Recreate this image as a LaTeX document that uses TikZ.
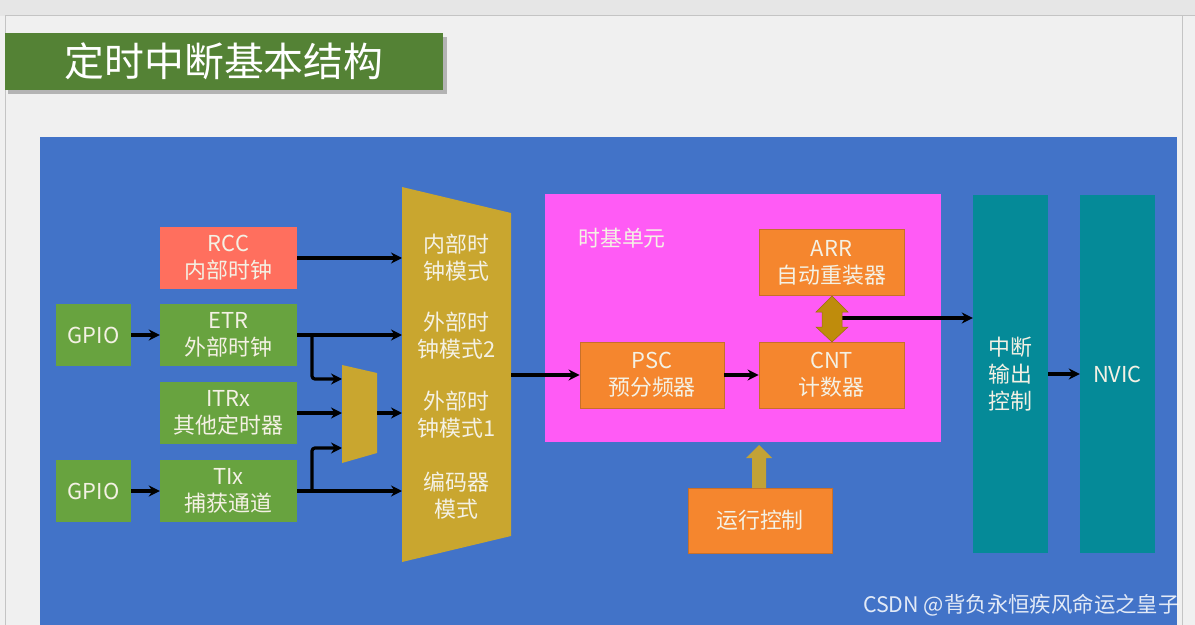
\documentclass[tikz,border=0pt]{standalone}
\usepackage{fontspec}
\newfontfamily\cjk{Noto Sans CJK SC}
\usetikzlibrary{arrows.meta}
\definecolor{pagebg}{HTML}{F0F0F0}
\definecolor{topband}{HTML}{E6E6E6}
\definecolor{edgeline}{HTML}{C4C4C4}
\definecolor{titlegreen}{HTML}{548235}
\definecolor{panelblue}{HTML}{4273C8}
\definecolor{boxgreen}{HTML}{68A33F}
\definecolor{rccred}{HTML}{FF6F5E}
\definecolor{muxgold}{HTML}{C9A62F}
\definecolor{tbpink}{HTML}{FF5BF5}
\definecolor{boxorange}{HTML}{F5862E}
\definecolor{orangeedge}{HTML}{C8702A}
\definecolor{teal}{HTML}{058A98}
\definecolor{dblgold}{HTML}{BF8C0C}
\definecolor{upgold}{HTML}{C2A236}
\definecolor{txt}{HTML}{F4F1E4}
\begin{document}
\begin{tikzpicture}[x=1bp,y=-1bp,
  lbl/.style={font=\cjk\fontsize{22}{27}\selectfont, text=txt, align=center, inner sep=0pt},
  box/.style={lbl, minimum width=137bp, minimum height=62bp},
  gbox/.style={box, fill=boxgreen},
  smallbox/.style={box, minimum width=75bp, fill=boxgreen},
  obox/.style={lbl, fill=boxorange, draw=orangeedge, line width=0.8bp, minimum width=145bp, minimum height=66bp},
  tbox/.style={lbl, fill=teal, minimum width=75bp, minimum height=358bp},
  ghost/.style={inner sep=0pt, outer sep=0pt},
  tip/.style={-{Stealth[length=11bp,width=11bp]}},
  arr/.style={line width=3.2bp, draw=black, tip},
  wire/.style={line width=3.2bp, draw=black, rounded corners=3bp, tip}
]
\useasboundingbox (0,0) rectangle (1195,625);
% page background
\fill[pagebg] (0,0) rectangle (1195,625);
\fill[topband] (0,0) rectangle (1195,16);
\draw[edgeline, line width=1bp] (5,625) -- (5,16) -- (1195,16);
\draw[edgeline, line width=1bp] (1182,16) -- (1182,625);
% title
\fill[black, opacity=0.25] (8,37) rectangle (447,94);
\node[ghost, fill=titlegreen, minimum width=438bp, minimum height=57bp, anchor=north west,
  font=\cjk\fontsize{40}{42}\selectfont, text=white] (title) at (5,33) {定时中断基本结构};
% blue panel
\node[ghost, fill=panelblue, minimum width=1137bp, minimum height=488bp, anchor=north west] (panel) at (40,137) {};

% left sources
\node[box, fill=rccred] (rcc) at (228.5,258) {RCC\\内部时钟};
\node[smallbox] (gpio1) at (93.5,335) {GPIO};
\node[gbox] (etr) at (228.5,335) {ETR\\外部时钟};
\node[gbox] (itr) at (228.5,413) {ITRx\\其他定时器};
\node[smallbox] (gpio2) at (93.5,491) {GPIO};
\node[gbox] (tix) at (228.5,491) {TIx\\捕获通道};

% small mux
\node[ghost, minimum width=35bp, minimum height=98bp] (smux) at (359.5,414) {};
\fill[muxgold] (342,365) -- (377,373) -- (377,453) -- (342,463) -- cycle;
% big mux
\node[ghost, minimum width=109bp, minimum height=375bp] (mux) at (456.5,374.5) {};
\fill[muxgold] (402,187) -- (511,213) -- (511,536) -- (402,562) -- cycle;
\node[lbl] (m1) at (456.5,258) {内部时\\钟模式};
\node[lbl] (m2) at (456.5,336) {外部时\\钟模式2};
\node[lbl] (m3) at (456.5,415) {外部时\\钟模式1};
\node[lbl] (m4) at (456.5,496) {编码器\\模式};

% time base unit
\node[ghost, fill=tbpink, minimum width=396bp, minimum height=248bp] (tb) at (743,318) {};
\node[lbl, anchor=west] (tbl) at (578,238) {时基单元};
\node[obox] (arr) at (831.5,262.5) {ARR\\自动重装器};
\node[obox, minimum width=144bp] (psc) at (652,375) {PSC\\预分频器};
\node[obox] (cnt) at (831.5,375) {CNT\\计数器};
\node[obox, minimum width=144bp, minimum height=65bp] (run) at (760,520.5) {运行控制};

% right column
\node[tbox] (int) at (1010.5,374) {中断\\输出\\控制};
\node[tbox] (nvic) at (1117.5,374) {NVIC};

% wires and arrows
\draw[arr] (gpio1.east) -- (etr.west);
\draw[arr] (gpio2.east) -- (tix.west);
\draw[arr] (rcc.east) -- (rcc.east -| mux.west);
\draw[arr] (etr.east) -- (etr.east -| mux.west);
\draw[arr] (tix.east) -- (tix.east -| mux.west);
\coordinate (b1) at (312,336);
\coordinate (s1) at (342,379);
\coordinate (b2) at (312,491);
\coordinate (s2) at (342,448);
\draw[wire] (b1) |- (s1);
\draw[wire] (b2) |- (s2);
\draw[arr] (itr.east) -- (itr.east -| smux.west);
\draw[arr] (smux.east |- itr.east) -- (itr.east -| mux.west);
\draw[arr] (mux.east |- psc.west) -- (psc.west);
\draw[arr] (psc.east) -- (cnt.west);
\coordinate (d) at (842,318);
\draw[arr] (d) -- (d -| int.west);
\draw[arr] (int.east |- nvic.center) -- (nvic.west);

% double arrow ARR <-> CNT
\fill[dblgold, draw=dblgold!80!black, line width=0.5bp]
  (832,296) -- (848,312) -- (842,312) -- (842,327) -- (848,327) -- (832,342)
  -- (816,327) -- (822,327) -- (822,312) -- (816,312) -- cycle;
% run control up arrow
\fill[upgold]
  (759,445) -- (772,458) -- (766,458) -- (766,488) -- (752,488) -- (752,458) -- (746,458) -- cycle;

% watermark
\node[font=\cjk\fontsize{21.5}{23}\selectfont, text=white, opacity=0.85, anchor=east, inner sep=0pt] (wm) at (1180,605) {CSDN @背负永恒疾风命运之皇子};
\end{tikzpicture}
\end{document}
